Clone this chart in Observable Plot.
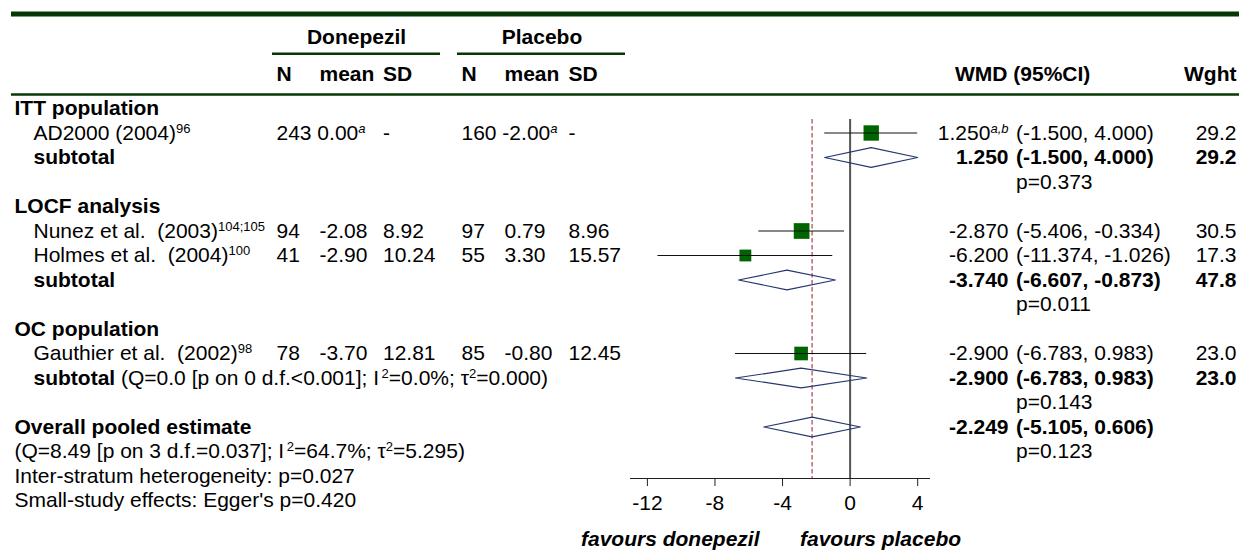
<!DOCTYPE html>
<html><head><meta charset="utf-8">
<script src="https://cdn.jsdelivr.net/npm/d3@7"></script>
<script src="https://cdn.jsdelivr.net/npm/@observablehq/plot@0.6"></script>
<style>
html,body{margin:0;padding:0;background:#fff;}
#chart{position:relative;width:1239px;height:553px;}
#chart svg{position:absolute;left:0;top:0;}
svg text{white-space:pre;}
</style></head><body><div id="chart"></div>
<script>
// ---------------- data ----------------
const groups = ["ITT population", "LOCF analysis", "OC population"];
const groupHet = [null, null, "(Q=0.0 [p on 0 d.f.<0.001]; I^{\u20092}=0.0%; \u03c4^{2}=0.000)"];
const studies = ["AD2000 (2004)", "Nunez et al.  (2003)", "Holmes et al.  (2004)", "Gauthier et al.  (2002)"];
const refs = ["96", "104;105", "100", "98"];
const studyGroup = [0, 1, 1, 2];
const donepezilN = [243, 94, 41, 78];
const donepezilMean = [0.00, -2.08, -2.90, -3.70];
const donepezilSD = [null, 8.92, 10.24, 12.81];
const placeboN = [160, 97, 55, 85];
const placeboMean = [-2.00, 0.79, 3.30, -0.80];
const placeboSD = [null, 8.96, 15.57, 12.45];
const meanNote = ["a", null, null, null];
const wmd = [1.250, -2.870, -6.200, -2.900];
const wmdNote = ["a,b", null, null, null];
const ciLow = [-1.500, -5.406, -11.374, -6.783];
const ciHigh = [4.000, -0.334, -1.026, 0.983];
const weight = [29.2, 30.5, 17.3, 23.0];
const subtotalWmd = [1.250, -3.740, -2.900];
const subtotalLow = [-1.500, -6.607, -6.783];
const subtotalHigh = [4.000, -0.873, 0.983];
const subtotalWeight = [29.2, 47.8, 23.0];
const subtotalP = ["0.373", "0.011", "0.143"];
const overallWmd = -2.249, overallLow = -5.105, overallHigh = 0.606, overallP = "0.123";
const overallHet = "(Q=8.49 [p on 3 d.f.=0.037]; I^{\u20092}=64.7%; \u03c4^{2}=5.295)";
const interStratumP = "0.027";
const eggerP = "0.420";
const xTicks = [-12, -8, -4, 0, 4];
const armLabels = ["Donepezil", "Placebo"];
const colLabels = ["N", "mean", "SD"];
const favours = ["favours donepezil", "favours placebo"];

// ---------------- layout ----------------
const W = 1239, H = 553;
const FONT = "'Liberation Sans', Arial, Helvetica, sans-serif";
const FS = 21;
const GREEN = "#053805";
const rowScale = {domain: [0, 16], range: [108, 500]};
const col = {group: 14, study: 33, dN: 276, dMean: 319, dSD: 382.5, pN: 461, pMean: 504, pSD: 568,
  est: 1008, ci: 1015.5, wght: 1236, wmdHead: 954.5, arm: [356, 541.5], favL: 759, favR: 799.5};
const hdr = {arm: -2.91, cols: -1.39, topRule: -3.86, armRule: -2.23, headRule: -0.57, favours: 17.59};
const fullRules = [{row: hdr.topRule, x1: 11, x2: W, w: 5}, {row: hdr.headRule, x1: 11, x2: W, w: 2.5}];
const armRules = [{row: hdr.armRule, x1: 272, x2: 440}, {row: hdr.armRule, x1: 457, x2: 625}];

const f1 = v => v.toFixed(1), f2 = v => v.toFixed(2), f3 = v => v.toFixed(3);

// ---------------- build table text ----------------
const items = [];
const add = (x, row, text, anchor = "start") => items.push({x, row, text, anchor});

armLabels.forEach((a, i) => add(col.arm[i], hdr.arm, `**${a}**`, "middle"));
[[col.dN, col.dMean, col.dSD], [col.pN, col.pMean, col.pSD]].forEach(cs =>
  cs.forEach((c, i) => add(c, hdr.cols, `**${colLabels[i]}**`)));
add(col.wmdHead, hdr.cols, "**WMD (95%CI)**");
add(col.wght, hdr.cols, "**Wght**", "end");

const studyData = [];
const diamonds = [];
let r = 0;
groups.forEach((g, gi) => {
  add(col.group, r, `**${g}**`);
  r++;
  studies.forEach((s, si) => {
    if (studyGroup[si] !== gi) return;
    add(col.study, r, `${s}^{${refs[si]}}`);
    if (meanNote[si]) {
      add(col.dN, r, `${donepezilN[si]} ${f2(donepezilMean[si])}^i{${meanNote[si]}}`);
      add(col.pN, r, `${placeboN[si]} ${f2(placeboMean[si])}^i{${meanNote[si]}}`);
    } else {
      add(col.dN, r, String(donepezilN[si]));
      add(col.dMean, r, f2(donepezilMean[si]));
      add(col.pN, r, String(placeboN[si]));
      add(col.pMean, r, f2(placeboMean[si]));
    }
    add(col.dSD, r, donepezilSD[si] == null ? "-" : f2(donepezilSD[si]));
    add(col.pSD, r, placeboSD[si] == null ? "-" : f2(placeboSD[si]));
    add(col.est, r, f3(wmd[si]) + (wmdNote[si] ? `^i{${wmdNote[si]}}` : ""), "end");
    add(col.ci, r, `(${f3(ciLow[si])}, ${f3(ciHigh[si])})`);
    add(col.wght, r, f1(weight[si]), "end");
    studyData.push({est: wmd[si], lo: ciLow[si], hi: ciHigh[si], w: weight[si], row: r});
    r++;
  });
  add(col.study, r, "**subtotal**" + (groupHet[gi] ? " " + groupHet[gi] : ""));
  add(col.est, r, `**${f3(subtotalWmd[gi])}**`, "end");
  add(col.ci, r, `**(${f3(subtotalLow[gi])}, ${f3(subtotalHigh[gi])})**`);
  add(col.wght, r, `**${f1(subtotalWeight[gi])}**`, "end");
  diamonds.push({id: g, est: subtotalWmd[gi], lo: subtotalLow[gi], hi: subtotalHigh[gi], row: r});
  r++;
  add(col.ci, r, "p=" + subtotalP[gi]);
  r++;
});
add(col.group, r, "**Overall pooled estimate**");
add(col.est, r, `**${f3(overallWmd)}**`, "end");
add(col.ci, r, `**(${f3(overallLow)}, ${f3(overallHigh)})**`);
diamonds.push({id: "overall", est: overallWmd, lo: overallLow, hi: overallHigh, row: r});
r++;
add(col.group, r, overallHet);
add(col.ci, r, "p=" + overallP);
r++;
add(col.group, r, `Inter-stratum heterogeneity: p=${interStratumP}`);
r++;
add(col.group, r, `Small-study effects: Egger's p=${eggerP}`);

const diamondPts = diamonds.flatMap(d => [
  {id: d.id, x: d.lo, y: d.row}, {id: d.id, x: d.est, y: d.row - 0.4},
  {id: d.id, x: d.hi, y: d.row}, {id: d.id, x: d.est, y: d.row + 0.4},
  {id: d.id, x: d.lo, y: d.row}
]);

const textMark = anchor => Plot.text(items.filter(d => d.anchor === anchor), {
  x: "x", y: "row", text: "text", textAnchor: anchor, fontSize: FS, fill: "#000"
});

// ---------------- table layer ----------------
const table = Plot.plot({
  width: W, height: H, margin: 0,
  x: {domain: [0, W], range: [0, W], axis: null},
  y: {...rowScale, axis: null},
  style: {background: "transparent", fontFamily: FONT, fontSize: FS + "px", color: "#000"},
  marks: [
    Plot.ruleY(fullRules.filter(d => d.w > 3), {y: "row", x1: "x1", x2: "x2", stroke: GREEN, strokeWidth: 5}),
    Plot.ruleY(fullRules.filter(d => d.w <= 3), {y: "row", x1: "x1", x2: "x2", stroke: GREEN, strokeWidth: 2.5}),
    Plot.ruleY(armRules, {y: "row", x1: "x1", x2: "x2", stroke: GREEN, strokeWidth: 2.5}),
    textMark("start"), textMark("end"), textMark("middle"),
    Plot.text([favours[0]], {x: col.favL, y: hdr.favours, text: d => d, textAnchor: "end",
      fontSize: FS, fontWeight: "bold", fontStyle: "italic", fill: "#000"}),
    Plot.text([favours[1]], {x: col.favR, y: hdr.favours, text: d => d, textAnchor: "start",
      fontSize: FS, fontWeight: "bold", fontStyle: "italic", fill: "#000"})
  ]
});

// ---------------- forest layer ----------------
const forest = Plot.plot({
  width: W, height: H, marginLeft: 630, marginRight: 310, marginTop: 119, marginBottom: 75,
  x: {domain: [-13, 4.7]},
  y: {...rowScale, axis: null},
  r: {type: "sqrt", domain: [0, 30.5], range: [0, 8.86]},
  style: {background: "transparent", fontFamily: FONT, fontSize: FS + "px", color: "#000"},
  marks: [
    Plot.frame({anchor: "bottom", stroke: "#222", strokeWidth: 1}),
    Plot.axisX(xTicks, {tickSize: 8, tickPadding: 9, fontSize: FS, tickFormat: d => String(d),
      label: null, stroke: "#222", fill: "#000"}),
    Plot.ruleX([0], {stroke: "#555", strokeWidth: 2}),
    Plot.ruleX([overallWmd], {stroke: "#bb6a72", strokeWidth: 1.5, strokeDasharray: "4.5,2.5"}),
    Plot.dot(studyData, {x: "est", y: "row", r: "w", symbol: "square", fill: "#006400", stroke: null}),
    Plot.ruleY(studyData, {y: "row", x1: "lo", x2: "hi", stroke: "#111", strokeWidth: 1}),
    Plot.line(diamondPts, {x: "x", y: "y", z: "id", stroke: "#25386c", strokeWidth: 1.2, fill: "none"})
  ]
});

// ---------------- rich text (bold / superscript) ----------------
function rich(svg) {
  const NS = "http://www.w3.org/2000/svg";
  svg.querySelectorAll("text").forEach(t => {
    if (t.children.length) return;
    const s = t.textContent;
    if (!/[\^*]/.test(s)) return;
    t.textContent = "";
    const parts = s.split(/(\*\*[^*]+\*\*|\^i?\{[^}]*\})/g).filter(p => p !== "");
    let raised = false;
    for (const p of parts) {
      const ts = document.createElementNS(NS, "tspan");
      if (p.startsWith("^")) {
        const it = p[1] === "i";
        ts.textContent = p.slice(it ? 3 : 2, -1);
        ts.setAttribute("font-size", 13);
        ts.setAttribute("dy", -7);
        if (it) ts.setAttribute("font-style", "italic");
        raised = true;
      } else {
        if (p.startsWith("**")) { ts.textContent = p.slice(2, -2); ts.setAttribute("font-weight", "bold"); }
        else ts.textContent = p;
        if (raised) { ts.setAttribute("dy", 7); raised = false; }
      }
      t.appendChild(ts);
    }
  });
}
rich(table); rich(forest);
const chart = document.getElementById("chart");
chart.appendChild(table);
chart.appendChild(forest);
</script></body></html>
